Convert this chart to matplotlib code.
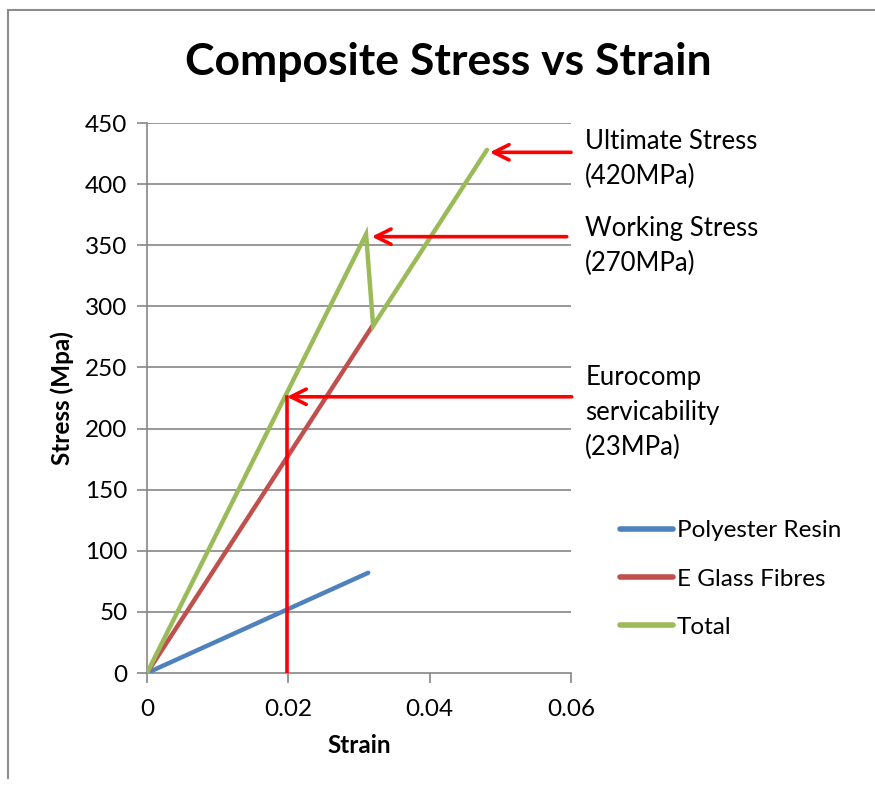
import matplotlib.pyplot as plt
from matplotlib.lines import Line2D

# data
resin_strain = [0.0, 0.0313]
resin_stress = [0.0, 82.0]
glass_strain = [0.0, 0.0319]
glass_stress = [0.0, 284.0]
total_strain = [0.0, 0.0310, 0.0320, 0.0481]
total_stress = [0.0, 359.0, 284.0, 428.0]

series_names = ['Polyester Resin', 'E Glass Fibres', 'Total']
series_colors = ['#4F81BD', '#C0504D', '#9BBB59']

# red arrows: tip strain, stress level, tail strain, text
arrow_tip_x = [0.0485, 0.0318, 0.0198]
arrow_y = [426.0, 357.0, 226.0]
arrow_tail_x = [0.0600, 0.0594, 0.0601]
arrow_labels = ['Ultimate Stress\n(420MPa)', 'Working Stress\n(270MPa)',
                'Eurocomp\nservicability\n(23MPa)']
label_y = [445.0, 374.0, 252.0]

xticks = [0, 0.02, 0.04, 0.06]
xtick_labels = ['0', '0.02', '0.04', '0.06']
yticks = list(range(0, 451, 50))

plt.rcParams['font.family'] = ['Lato', 'DejaVu Sans']

fig = plt.figure(figsize=(8.75, 7.89), dpi=100)
ax = fig.add_axes([147 / 875, 116 / 789, 424 / 875, 550 / 789])

grid_col = '#868686'
for y in yticks[1:]:
    ax.axhline(y, color=grid_col, lw=1.2, zorder=1)

data = [(resin_strain, resin_stress), (glass_strain, glass_stress),
        (total_strain, total_stress)]
for (xs, ys), name, col in zip(data, series_names, series_colors):
    ax.plot(xs, ys, color=col, lw=3.2, label=name, zorder=3,
            solid_capstyle='round', solid_joinstyle='miter')

for tx, y, tail, lab, ly in zip(arrow_tip_x, arrow_y, arrow_tail_x,
                                arrow_labels, label_y):
    ax.annotate('', xy=(tx, y), xytext=(tail, y),
                arrowprops=dict(arrowstyle='->,head_length=1.1,head_width=0.55',
                                color='#FF0000', lw=2.6, shrinkA=0, shrinkB=0),
                annotation_clip=False, zorder=4)
    ax.text(0.0620, ly, lab, fontsize=18.5, va='top', ha='left',
            linespacing=1.5, clip_on=False)

# vertical red marker at the serviceability limit
ax.plot([arrow_tip_x[2], arrow_tip_x[2]], [0, arrow_y[2]], color='#FF0000',
        lw=2.6, zorder=4)

ax.set_xlim(0, 0.06)
ax.set_ylim(0, 450)
ax.set_xticks(xticks)
ax.set_xticklabels(xtick_labels)
ax.set_yticks(yticks)
for s in ['top', 'right']:
    ax.spines[s].set_visible(False)
for s in ['left', 'bottom']:
    ax.spines[s].set_color(grid_col)
    ax.spines[s].set_linewidth(1.2)
ax.tick_params(direction='out', length=7, width=1.2, color=grid_col,
               labelsize=17.5, pad=7)
ax.tick_params(axis='x', pad=12)

ax.set_xlabel('Strain', fontsize=17.5, fontweight='bold', labelpad=10)
ax.set_ylabel('Stress (Mpa)', fontsize=17.5, fontweight='bold', labelpad=8)
fig.text(448 / 875, 1 - 62 / 789, 'Composite Stress vs Strain', fontsize=32,
         fontweight='bold', ha='center', va='center')

handles = [Line2D([], [], color=c, lw=4, solid_capstyle='round')
           for c in series_colors]
fig.legend(handles, series_names, loc='center left',
           bbox_to_anchor=(598 / 875, 1 - 579 / 789), frameon=False,
           fontsize=17.5, handlelength=2.2, handletextpad=0.15,
           labelspacing=1.12)

# chart area border (left and top are visible)
fig.add_artist(Line2D([8 / 875, 8 / 875], [1 - 10 / 789, 1 - 778 / 789],
                      color='#8C8C8C', lw=1.5))
fig.add_artist(Line2D([8 / 875, 1.0], [1 - 10 / 789, 1 - 10 / 789],
                      color='#8C8C8C', lw=1.5))

fig.savefig('out.png', dpi=100)
